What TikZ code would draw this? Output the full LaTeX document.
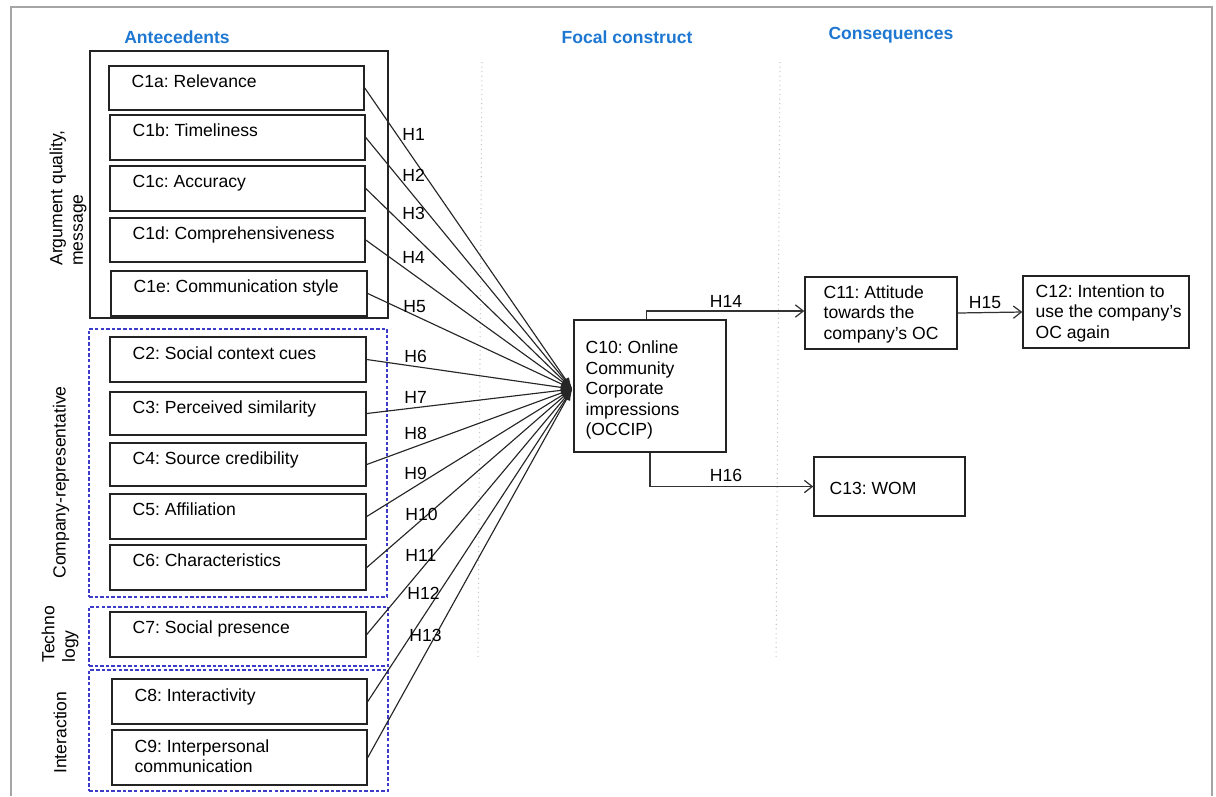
\documentclass[tikz,border=0pt]{standalone}
\usepackage{fontspec}
\setmainfont{Liberation Sans}
\usetikzlibrary{arrows.meta,fit,calc}
\definecolor{headblue}{RGB}{30,120,210}
\definecolor{groupblue}{RGB}{60,60,200}
\definecolor{framegray}{RGB}{165,165,165}
\definecolor{guidegray}{RGB}{195,195,195}
\definecolor{boxline}{RGB}{35,35,35}
\frenchspacing

\begin{document}
\begin{tikzpicture}[x=0.02cm,y=-0.02cm,
  font=\fontsize{10}{11.7}\selectfont,
  cbox/.style={draw=boxline, line width=0.85pt, inner sep=0pt},
  groupsolid/.style={draw=boxline, line width=0.85pt, inner sep=0pt},
  groupdash/.style={draw=groupblue, line width=0.6pt, dash pattern=on 2pt off 1.2pt, inner sep=0pt},
  ctext/.style={anchor=base west, inner sep=0pt},
  mtext/.style={anchor=west, align=left, inner sep=0pt},
  heading/.style={text=headblue, font=\fontsize{10}{12}\selectfont\bfseries, inner sep=0pt},
  side/.style={rotate=90, anchor=west, align=left, inner sep=0pt},
  hlabel/.style={anchor=west, inner sep=0pt},
  conn/.style={draw=black!85, line width=0.65pt, -{Latex[length=6.5pt,width=4.5pt]}},
  arr/.style={draw=black!80, line width=0.7pt, -{Straight Barb[length=4.5pt,width=7pt]}},
  guide/.style={draw=guidegray, dotted, line width=0.6pt}]

\useasboundingbox (0,0) rectangle (1216,796);

% outer frame
\draw[framegray, line width=1.2pt] (11,796) -- (11,7) -- (1212,7) -- (1212,796);

% column headings
\node[heading] (hant) at (177,37) {Antecedents};
\node[heading] (hfoc) at (627,37) {Focal construct};
\node[heading] (hcon) at (891,35) {Consequences};

% column separators
\draw[guide] (482,62) -- (478,660);
\draw[guide] (780,62) -- (776,660);

% antecedent groups
\node[groupsolid, fit={(90,51) (388,318)}] (garg) {};
\node[groupdash, fit={(89,329) (387,597)}] (gcomp) {};
\node[groupdash, fit={(89,607) (388,666)}] (gtech) {};
\node[groupdash, fit={(89,670) (388,791)}] (ginter) {};

\node[side] (larg) at (68,266) {Argument quality,\\message};
\node[side] (lcomp) at (61,579) {Company-representative};
\node[side] (ltech) at (60,663) {Techno\\logy};
\node[side] (linter) at (60,774) {Interaction};

% antecedent constructs
\node[cbox, fit={(109,66) (364,110)}] (c1a) {};
\node[cbox, fit={(110,115) (365,160)}] (c1b) {};
\node[cbox, fit={(110,166) (365,211)}] (c1c) {};
\node[cbox, fit={(110,218) (365,262)}] (c1d) {};
\node[cbox, fit={(111,271) (367,316)}] (c1e) {};
\node[cbox, fit={(110,337) (366,382)}] (c2) {};
\node[cbox, fit={(110,392) (366,435)}] (c3) {};
\node[cbox, fit={(110,443) (366,486)}] (c4) {};
\node[cbox, fit={(110,494) (366,539)}] (c5) {};
\node[cbox, fit={(110,545) (366,590)}] (c6) {};
\node[cbox, fit={(110,612) (366,657)}] (c7) {};
\node[cbox, fit={(112,679) (367,724)}] (c8) {};
\node[cbox, fit={(112,730) (367,785)}] (c9) {};

\node[ctext] at ($(c1a.north west)+(23,22)$) {C1a: Relevance};
\node[ctext] at ($(c1b.north west)+(23,22)$) {C1b: Timeliness};
\node[ctext] at ($(c1c.north west)+(23,22)$) {C1c: Accuracy};
\node[ctext] at ($(c1d.north west)+(23,22)$) {C1d: Comprehensiveness};
\node[ctext] at ($(c1e.north west)+(23,22)$) {C1e: Communication style};
\node[ctext] at ($(c2.north west)+(23,23)$) {C2: Social context cues};
\node[ctext] at ($(c3.north west)+(23,22)$) {C3: Perceived similarity};
\node[ctext] at ($(c4.north west)+(23,22)$) {C4: Source credibility};
\node[ctext] at ($(c5.north west)+(23,22)$) {C5: Affiliation};
\node[ctext] at ($(c6.north west)+(23,22)$) {C6: Characteristics};
\node[ctext] at ($(c7.north west)+(23,22)$) {C7: Social presence};
\node[ctext] at ($(c8.north west)+(23,23)$) {C8: Interactivity};
\node[ctext, align=left, anchor=north west] at ($(c9.north west)+(23,10)$) {C9: Interpersonal\\communication};

% focal construct and consequences
\node[cbox, fit={(574,320) (726,452)}] (c10) {};
\node[mtext] at ($(c10.west)+(12,4)$) {C10: Online\\Community\\Corporate\\impressions\\(OCCIP)};

\node[cbox, fit={(805,277) (957,349)}] (c11) {};
\node[mtext] at ($(c11.west)+(19,1)$) {C11: Attitude\\towards the\\company’s OC};

\node[cbox, fit={(1023,276) (1189,348)}] (c12) {};
\node[mtext] at ($(c12.west)+(13,1)$) {C12: Intention to\\use the company’s\\OC again};

\node[cbox, fit={(814,457) (965,516)}] (c13) {};
\node[mtext] at ($(c13.west)+(16,2)$) {C13: WOM};

% hypotheses H1--H13
\foreach \n in {c1a,c1b,c1c,c1d,c1e,c2,c3,c4,c5,c6,c7,c8,c9}
  \draw[conn] (\n.east) -- ($(c10.west)+(-1,3)$);

\node[hlabel] (h1) at (402,134) {H1};
\node[hlabel] (h2) at (402,175) {H2};
\node[hlabel] (h3) at (402,213) {H3};
\node[hlabel] (h4) at (402,257) {H4};
\node[hlabel] (h5) at (403,307) {H5};
\node[hlabel] (h6) at (404,356) {H6};
\node[hlabel] (h7) at (404,397) {H7};
\node[hlabel] (h8) at (404,433) {H8};
\node[hlabel] (h9) at (404,473) {H9};
\node[hlabel] (h10) at (405,514) {H10};
\node[hlabel] (h11) at (405,555) {H11};
\node[hlabel] (h12) at (407,593) {H12};
\node[hlabel] (h13) at (409,635) {H13};

% hypotheses H14--H16
\draw[arr] ([xshift=-2pt]c10.north) |- ($(c11.west)+(0,-2)$);
\node[inner sep=0pt] (h14) at (726,301) {H14};
\draw[arr] (c11.east) -- (c12.west);
\node[inner sep=0pt] (h15) at (985,303) {H15};
\draw[arr] (c10.south) |- (c13.west);
\node[inner sep=0pt] (h16) at (726,475) {H16};

\end{tikzpicture}
\end{document}
